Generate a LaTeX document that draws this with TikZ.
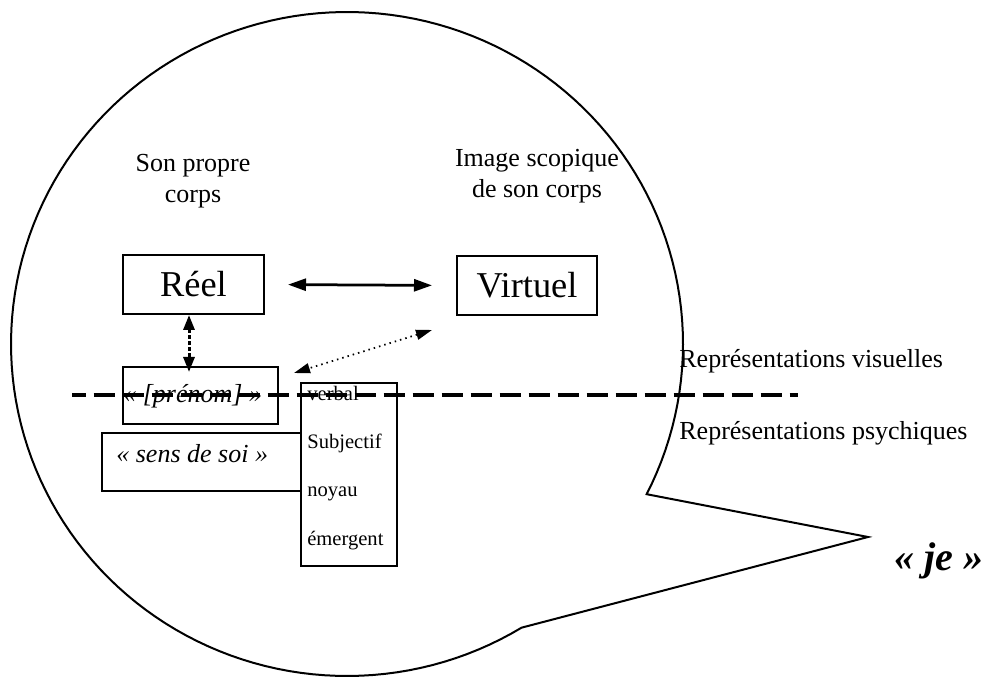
\documentclass[tikz,border=0pt]{standalone}
\usepackage{fontspec}
\setmainfont{Liberation Serif}
\usetikzlibrary{arrows.meta,calc}

\begin{document}
\begin{tikzpicture}[x=0.2mm,y=-0.2mm,
  box/.style={draw,line width=0.4mm,inner sep=0pt},
  small/.style={font=\fontsize{14.8}{17.6}\selectfont},
  big/.style={font=\fontsize{20.7}{24}\selectfont},
  ital/.style={font=\fontsize{14.8}{17.6}\selectfont\itshape},
  list/.style={font=\fontsize{11.7}{14}\selectfont,inner sep=0pt}]
\useasboundingbox (0,0) rectangle (999,677);
\draw [line width=0.4mm] plot [domain=58.7:386.9,samples=160] ({347+336*cos(\x)},{344+332*sin(\x)}) -- (868,537) -- cycle;
\node [small,align=center] (propre) at (193,181) {Son propre\\corps};
\node [small,align=center] (scopique) at (537,176) {Image scopique\\de son corps};
\node [box,big,minimum width=28.2mm,minimum height=11.8mm] (reel) at (193.5,284.5) {Réel};
\node [box,big,minimum width=28mm,minimum height=11.8mm] (virtuel) at (527,285.5) {Virtuel};
\node [box,minimum width=31mm,minimum height=11.4mm] (prenom) at (200.5,395.5) {};
\node [ital,inner sep=0pt,anchor=base west] (prenomtxt) at ($(prenom.west)+(1,7)$) {« [prénom] »};
\node [box,minimum width=40mm,minimum height=11.6mm] (sens) at (202,462) {};
\node [ital,inner sep=0pt,anchor=base west] (senstxt) at ($(sens.west)+(15,1)$) {« sens de soi »};
\node [box,fill=white,minimum width=19.2mm,minimum height=36.6mm] (verbal) at (349,474.5) {};
\foreach \mot/\dy [count=\i] in {verbal/19,Subjectif/67,noyau/115,émergent/164}
  \node [list,anchor=base west] (mot\i) at ($(verbal.north west)+(7,\dy)$) {\mot};
\node [small,inner sep=0pt,anchor=base west] (visuelles) at (679,368) {Représentations visuelles};
\node [small,inner sep=0pt,anchor=base west] (psychiques) at (679,440) {Représentations psychiques};
\node [font=\fontsize{22.8}{27}\selectfont\bfseries\itshape,inner sep=0pt,anchor=base west] (je) at (894,570) {« je »};
\draw [<->,>={Triangle[length=3.6mm,width=2.4mm]},line width=0.55mm,shorten <=4.6mm,shorten >=4.8mm] (reel.east) -- (virtuel.west);
\draw [<->,>={Triangle[length=3mm,width=2.2mm]},line width=0.6mm,dash pattern=on 0.7mm off 0.5mm,shorten >=-1.2mm] ([xshift=-0.9mm]reel.south) -- ([xshift=-0.9mm]reel.south |- prenom.north);
\draw [<->,>={Triangle[length=3.2mm,width=2mm]},line width=0.35mm,dash pattern=on 0.3mm off 0.8mm] ($(virtuel.south west)+(-24,14)$) -- ($(prenom.north east)+(15,7)$);
\draw [line width=0.65mm,dash pattern=on 4.2mm off 1.6mm,dash phase=1.5mm] (72,395) -- (798,395);
\end{tikzpicture}
\end{document}
